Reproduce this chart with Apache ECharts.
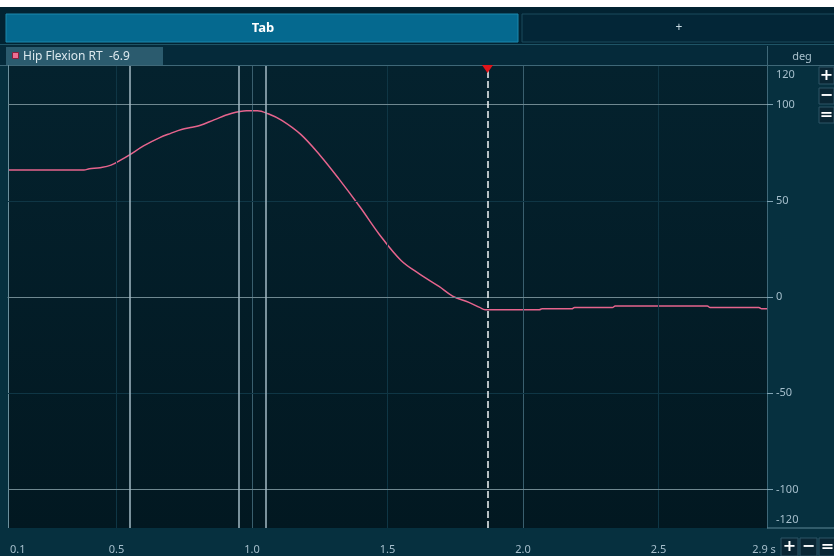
<!DOCTYPE html>
<html>
<head>
<meta charset="utf-8">
<script src="https://cdn.jsdelivr.net/npm/echarts@6/dist/echarts.min.js"></script>
<style>
  html, body { margin: 0; padding: 0; background: #ffffff; }
  #chart { width: 834px; height: 556px; }
</style>
</head>
<body>
<div id="chart"></div>
<script>
// ---- data ----
const timeS = [0.10, 0.20, 0.30, 0.38, 0.40, 0.44, 0.48, 0.52, 0.55, 0.60, 0.66, 0.70, 0.74, 0.78, 0.81, 0.86, 0.92, 0.98, 1.02, 1.06, 1.11, 1.18, 1.25, 1.32, 1.40, 1.47, 1.55, 1.62, 1.69, 1.74, 1.80, 1.84, 1.86, 1.90, 2.06, 2.07, 2.18, 2.19, 2.33, 2.34, 2.68, 2.69, 2.87, 2.88, 2.90];
const hipFlexionDeg = [66.0, 66.0, 66.0, 66.0, 66.6, 67.2, 68.5, 71.5, 74.0, 78.5, 82.8, 85.0, 87.0, 88.2, 89.2, 92.0, 95.2, 96.8, 96.8, 95.2, 91.8, 84.5, 73.8, 61.5, 46.5, 32.5, 19.0, 11.8, 5.5, 0.5, -2.8, -5.4, -6.6, -6.6, -6.6, -6.1, -6.1, -5.4, -5.4, -4.7, -4.7, -5.4, -5.4, -6.1, -6.1];
const seriesName = 'Hip Flexion RT';
const cursorValueLabel = '-6.9';
const unitLabel = 'deg';
const tabLabels = ['Tab', '+'];
const eventTimes = [0.553, 0.955, 1.047];
const cursorTime = 1.869;
const xLabelValues = [0.1, 0.5, 1.0, 1.5, 2.0, 2.5, 2.9];
const xTickValues = [0.5, 1.0, 1.5, 2.0, 2.5];
const yLabelValues = [-120, -100, -50, 0, 50, 100, 120];
const yTickValues = [-100, -50, 0, 50, 100];
const majorGridX = [1.0, 2.0];
const minorGridX = [0.5, 1.5, 2.5];
const majorGridY = [-100, 0, 100];
const minorGridY = [-50, 50];

const chart = echarts.init(document.getElementById('chart'), null, { renderer: 'canvas' });

const FONT = 'Noto Sans';
const panel = '#06303f';

function btn(x, y, w, h, sym) {
  return [
    { type: 'rect', shape: { x: x, y: y, width: w, height: h }, style: { fill: '#0a2634', stroke: '#2c5566', lineWidth: 1 }, z: 20 },
    { type: 'text', style: { text: sym, x: x + w / 2, y: y + h / 2, align: 'center', verticalAlign: 'middle', fill: '#ffffff', font: 'bold 16px "DejaVu Sans"' }, z: 21 }
  ];
}

const graphics = [
  { type: 'rect', shape: { x: 0, y: 0, width: 834, height: 7 }, style: { fill: '#ffffff' }, z: -1 },
  { type: 'rect', shape: { x: 0, y: 7, width: 834, height: 38 }, style: { fill: '#022332' }, z: -1 },
  { type: 'rect', shape: { x: 6, y: 14, width: 512, height: 28 }, style: { fill: '#05698f', stroke: '#1d89ad', lineWidth: 1 }, z: 1 },
  { type: 'text', style: { text: tabLabels[0], x: 263, y: 28, align: 'center', verticalAlign: 'middle', fill: '#ffffff', font: 'bold 13px "' + FONT + '"' }, z: 2 },
  { type: 'rect', shape: { x: 522, y: 14, width: 316, height: 28 }, style: { fill: '#032637', stroke: '#1b4b5d', lineWidth: 1 }, z: 1 },
  { type: 'text', style: { text: tabLabels[1], x: 679, y: 28, align: 'center', verticalAlign: 'middle', fill: '#c9dbe3', font: '12px "' + FONT + '"' }, z: 2 },
  { type: 'line', shape: { x1: 0, y1: 44.5, x2: 834, y2: 44.5 }, style: { stroke: '#1f5466', lineWidth: 1 }, z: 1 },
  { type: 'rect', shape: { x: 0, y: 45, width: 834, height: 20 }, style: { fill: '#052a3a' }, z: -1 },
  { type: 'rect', shape: { x: 6, y: 47, width: 157, height: 18 }, style: { fill: '#2b5b6e' }, z: 1 },
  { type: 'rect', shape: { x: 12.5, y: 52.5, width: 6, height: 6 }, style: { fill: '#ee6f93', stroke: '#8a1f3c', lineWidth: 1 }, z: 2 },
  { type: 'text', style: { text: seriesName + '  ' + cursorValueLabel, x: 23, y: 56.5, align: 'left', verticalAlign: 'middle', fill: '#dbe8ee', font: '12px "' + FONT + '"' }, z: 2 },
  { type: 'text', style: { text: unitLabel, x: 802, y: 57, align: 'center', verticalAlign: 'middle', fill: '#a9c0cc', font: '11px "' + FONT + '"' }, z: 2 },
  { type: 'line', shape: { x1: 0, y1: 65.5, x2: 834, y2: 65.5 }, style: { stroke: '#3f6878', lineWidth: 1 }, z: 5 },
  { type: 'line', shape: { x1: 767.5, y1: 46, x2: 767.5, y2: 66 }, style: { stroke: '#3f6878', lineWidth: 1 }, z: 5 },
  { type: 'line', shape: { x1: 8.5, y1: 65, x2: 8.5, y2: 528 }, style: { stroke: '#6b8f9c', lineWidth: 1 }, z: 5 },
  { type: 'line', shape: { x1: 767, y1: 528, x2: 834, y2: 528 }, style: { stroke: '#5c8797', lineWidth: 1 }, z: 5 }
].concat(
  btn(819, 67, 15, 17, '+'),
  btn(819, 88, 15, 16, '−'),
  btn(819, 107, 15, 16, '='),
  btn(781, 538, 17, 18, '+'),
  btn(800, 538, 17, 18, '−'),
  btn(819, 538, 17, 18, '=')
);

function vLines(vals, color, width, type) {
  return vals.map(v => ({ xAxis: v, lineStyle: { color: color, width: width, type: type || 'solid' } }));
}
function hLines(vals, color, width) {
  return vals.map(v => ({ yAxis: v, lineStyle: { color: color, width: width, type: 'solid' } }));
}

const option = {
  animation: false,
  backgroundColor: panel,
  textStyle: { fontFamily: FONT },
  graphic: { elements: graphics },
  grid: {
    left: 8, right: 67, top: 66, bottom: 28,
    show: true,
    borderWidth: 0,
    backgroundColor: new echarts.graphic.LinearGradient(0, 0, 0, 1, [
      { offset: 0, color: '#04222e' },
      { offset: 1, color: '#021821' }
    ])
  },
  xAxis: {
    type: 'value', min: 0.1, max: 2.9,
    splitLine: { show: false },
    axisLine: { show: true, lineStyle: { color: '#5c8797', width: 1 } },
    axisTick: { show: true, length: 5, customValues: xTickValues, lineStyle: { color: '#7fa3b3' } },
    axisLabel: {
      customValues: xLabelValues,
      color: '#a6bfcc', fontSize: 11, margin: 16,
      alignMinLabel: 'left', alignMaxLabel: 'center',
      formatter: function (v) {
        if (Math.abs(v - 2.9) < 1e-6) return '{end|' + v.toFixed(1) + ' s}';
        if (Math.abs(v - 0.1) < 1e-6) return '{start|' + v.toFixed(1) + '}';
        return v.toFixed(1);
      },
      rich: {
        end: { color: '#a6bfcc', fontSize: 11, padding: [0, 6, 0, 0] },
        start: { color: '#a6bfcc', fontSize: 11, padding: [0, 0, 0, 2] }
      }
    }
  },
  yAxis: {
    type: 'value', min: -120, max: 120, position: 'right',
    splitLine: { show: false },
    axisLine: { show: true, lineStyle: { color: '#3f6878', width: 1 } },
    axisTick: { show: true, length: 6, customValues: yTickValues, lineStyle: { color: '#7fa3b3' } },
    axisLabel: {
      customValues: yLabelValues,
      color: '#a6bfcc', fontSize: 11, margin: 9,
      formatter: function (v) {
        if (v === 120) return '{top|' + v + '}';
        if (v === -120) return '{bot|' + v + '}';
        return String(v);
      },
      rich: {
        top: { color: '#a6bfcc', fontSize: 11, padding: [18, 0, 0, 0] },
        bot: { color: '#a6bfcc', fontSize: 11, padding: [0, 0, 16, 0] }
      }
    }
  },
  series: [
    {
      type: 'line', name: 'grid', data: [], z: 1, silent: true,
      markLine: {
        silent: true, symbol: ['none', 'none'], label: { show: false }, animation: false,
        data: [].concat(
          vLines(minorGridX, '#0f3645', 1),
          vLines(majorGridX, '#3a5f6e', 1),
          hLines(minorGridY, '#0f3645', 1),
          hLines(majorGridY, '#6f8890', 1.2)
        )
      }
    },
    {
      type: 'line', name: 'events', data: [], z: 2, silent: true,
      markLine: {
        silent: true, symbol: ['none', 'none'], label: { show: false }, animation: false,
        data: vLines(eventTimes, '#a3bac4', 1.5)
      }
    },
    {
      type: 'line', name: seriesName, z: 3,
      data: timeS.map((t, i) => [t, hipFlexionDeg[i]]),
      showSymbol: false, smooth: 0.35,
      lineStyle: { color: '#e6648d', width: 1.5 },
      itemStyle: { color: '#e6648d' }
    },
    {
      type: 'line', name: 'cursor', data: [], z: 4, silent: true,
      markLine: {
        silent: true, symbol: ['none', 'none'], label: { show: false }, animation: false,
        data: vLines([cursorTime], '#f2f6f8', 1.5, [7, 3])
      },
      markPoint: {
        silent: true, animation: false,
        symbol: 'triangle', symbolSize: [11, 8], symbolRotate: 180, symbolOffset: [0, 3],
        itemStyle: { color: '#e0141a' }, label: { show: false },
        data: [{ coord: [cursorTime, 120] }]
      }
    }
  ]
};

chart.setOption(option);
</script>
</body>
</html>
